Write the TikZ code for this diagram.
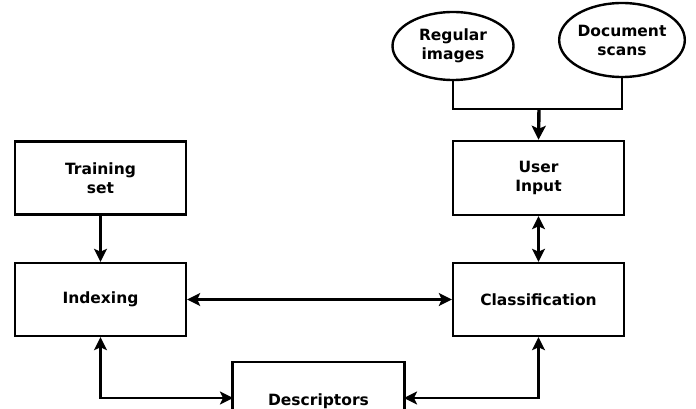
\documentclass[tikz,border=0pt]{standalone}
\usepackage{fontspec}
\setmainfont{DejaVu Sans}
\usetikzlibrary{shapes.geometric,arrows.meta}
\begin{document}
\begin{tikzpicture}[x=1pt,y=-1pt,
  box/.style={draw=black,line width=2.4pt,minimum width=171pt,minimum height=73pt,inner sep=0pt,
    align=center,font=\bfseries\fontsize{15.5}{19}\selectfont},
  oval/.style={draw=black,line width=2.4pt,ellipse,minimum width=121pt,minimum height=68pt,inner sep=0pt,
    align=center,font=\bfseries\fontsize{15.5}{19}\selectfont},
  tip/.tip={Stealth[length=13pt,width=13pt,inset=3pt]},
  arr/.style={line width=2.4pt,-tip},
  dbl/.style={line width=2.4pt,tip-tip},
  conn/.style={line width=2.4pt}]
\useasboundingbox (0,0) rectangle (696,409);
\clip (0,0) rectangle (696,409);
\node[box] (train) at (100.5,178) {Training\\set};
\node[box] (index) at (100.5,299.5) {Indexing};
\node[box,minimum height=74pt] (user) at (538.5,178) {User\\Input};
\node[box] (class) at (538.5,299.5) {Classification};
\node[box,minimum width=172pt,minimum height=78pt] (desc) at (318.5,401) {Descriptors};
\coordinate (dl) at (233,398);
\coordinate (dr) at (404,398);
\node[oval] (reg) at (453,46) {Regular\\images};
\node[oval,minimum height=74pt] (doc) at (622,40) {Document\\scans};
\coordinate (j) at (539,109);
\draw[conn] (reg.south) -- (reg.south |- j) -- (doc.south |- j) -- (doc.south);
\draw[line width=3.4pt,-{Stealth[length=14pt,width=14pt,inset=3pt]}] (j) -- (user.north);
\draw[arr] (train) -- (index);
\draw[dbl] (index) -- (class);
\draw[dbl] (user) -- (class);
\draw[dbl] (index.south) |- (dl);
\draw[dbl] (class.south) |- (dr);
\end{tikzpicture}
\end{document}
